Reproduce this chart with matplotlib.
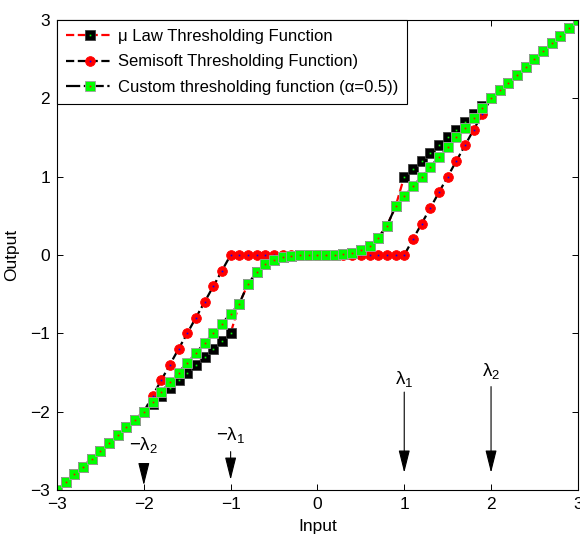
import matplotlib
matplotlib.use('Agg')
import matplotlib.pyplot as plt

plt.rcParams['font.family'] = ['Liberation Sans', 'DejaVu Sans']
plt.rcParams['mathtext.fontset'] = 'custom'
plt.rcParams['mathtext.rm'] = 'Liberation Sans'
plt.rcParams['mathtext.it'] = 'Liberation Sans'

# Input values (step 0.1)
x = [-3.0, -2.9, -2.8, -2.7, -2.6, -2.5, -2.4, -2.3, -2.2, -2.1,
     -2.0, -1.9, -1.8, -1.7, -1.6, -1.5, -1.4, -1.3, -1.2, -1.1,
     -1.0, -0.9, -0.8, -0.7, -0.6, -0.5, -0.4, -0.3, -0.2, -0.1,
     0.0, 0.1, 0.2, 0.3, 0.4, 0.5, 0.6, 0.7, 0.8, 0.9,
     1.0, 1.1, 1.2, 1.3, 1.4, 1.5, 1.6, 1.7, 1.8, 1.9,
     2.0, 2.1, 2.2, 2.3, 2.4, 2.5, 2.6, 2.7, 2.8, 2.9, 3.0]

# mu law thresholding
mu_law = [-3.0, -2.9, -2.8, -2.7, -2.6, -2.5, -2.4, -2.3, -2.2, -2.1,
          -2.0, -1.9, -1.8, -1.7, -1.6, -1.5, -1.4, -1.3, -1.2, -1.1,
          -1.0, -0.62, -0.37, -0.22, -0.12, -0.07, -0.03, -0.01, 0.0, 0.0,
          0.0, 0.0, 0.0, 0.01, 0.03, 0.07, 0.12, 0.22, 0.37, 0.62,
          1.0, 1.1, 1.2, 1.3, 1.4, 1.5, 1.6, 1.7, 1.8, 1.9,
          2.0, 2.1, 2.2, 2.3, 2.4, 2.5, 2.6, 2.7, 2.8, 2.9, 3.0]

# semisoft thresholding
semisoft = [-3.0, -2.9, -2.8, -2.7, -2.6, -2.5, -2.4, -2.3, -2.2, -2.1,
            -2.0, -1.8, -1.6, -1.4, -1.2, -1.0, -0.8, -0.6, -0.4, -0.2,
            0.0, 0.0, 0.0, 0.0, 0.0, 0.0, 0.0, 0.0, 0.0, 0.0,
            0.0, 0.0, 0.0, 0.0, 0.0, 0.0, 0.0, 0.0, 0.0, 0.0,
            0.0, 0.2, 0.4, 0.6, 0.8, 1.0, 1.2, 1.4, 1.6, 1.8,
            2.0, 2.1, 2.2, 2.3, 2.4, 2.5, 2.6, 2.7, 2.8, 2.9, 3.0]

# custom thresholding (alpha = 0.5)
custom = [-3.0, -2.9, -2.8, -2.7, -2.6, -2.5, -2.4, -2.3, -2.2, -2.1,
          -2.0, -1.875, -1.75, -1.625, -1.5, -1.375, -1.25, -1.125, -1.0, -0.875,
          -0.75, -0.62, -0.37, -0.22, -0.12, -0.07, -0.03, -0.01, 0.0, 0.0,
          0.0, 0.0, 0.0, 0.01, 0.03, 0.07, 0.12, 0.22, 0.37, 0.62,
          0.75, 0.875, 1.0, 1.125, 1.25, 1.375, 1.5, 1.625, 1.75, 1.875,
          2.0, 2.1, 2.2, 2.3, 2.4, 2.5, 2.6, 2.7, 2.8, 2.9, 3.0]

labels = ['\u03bc Law Thresholding Function',
          'Semisoft Thresholding Function)',
          'Custom thresholding function (\u03b1=0.5))']
ticks = [-3, -2, -1, 0, 1, 2, 3]

fig = plt.figure(figsize=(5.8, 5.37), dpi=100)
ax = fig.add_axes([0.0983, 0.0875, 0.898, 0.8753])

l1, = ax.plot(x, mu_law, '--', color='#ff0000', lw=1.6, marker='s', ms=6.5,
              mfc='k', mec='#404040', mew=0.6)
d1, = ax.plot(x, mu_law, ls='none', marker='s', ms=1.2, mfc='#00ff00', mec='none')
l2, = ax.plot(x, semisoft, '--', color='k', lw=1.6, marker='o', ms=7,
              mfc='#ff0000', mec='#ff0000', mew=0.6)
d2, = ax.plot(x, semisoft, ls='none', marker='s', ms=1.2, mfc='#0000ff', mec='none')
l3, = ax.plot(x, custom, '-.', color='k', lw=1.6, marker='s', ms=6.5,
              mfc='#00ff00', mec='#a0a0a0', mew=0.6)
d3, = ax.plot(x, custom, ls='none', marker='s', ms=1.2, mfc='#ff0000', mec='none')

ax.set_xlim(-3, 3)
ax.set_ylim(-3, 3)
ax.set_xticks(ticks)
ax.set_yticks(ticks)
ax.tick_params(direction='in', length=4, width=0.7, top=True, right=True,
               labelsize=12.5, pad=5)
for s in ax.spines.values():
    s.set_linewidth(0.8)

ax.set_xlabel('Input', fontsize=12.5, labelpad=5)
ax.set_ylabel('Output', fontsize=12.5, labelpad=8)

# threshold markers
arrows = [(1.0, -1.75, -2.78, r'$\lambda_1$', -1.58),
          (2.0, -1.68, -2.78, r'$\lambda_2$', -1.48),
          (-1.0, -2.51, -2.87, r'$-\lambda_1$', -2.30),
          (-2.0, -2.68, -2.94, r'$-\lambda_2$', -2.43)]
for xa, ytop, ytip, txt, ytxt in arrows:
    ax.annotate('', xy=(xa, ytip), xytext=(xa, ytop),
                arrowprops=dict(arrowstyle='-|>,head_length=1.4,head_width=0.35',
                                color='k', lw=0.8, shrinkA=0, shrinkB=0))
    ax.text(xa, ytxt, txt, ha='center', va='center', fontsize=13.5)

leg = ax.legend([(l1, d1), (l2, d2), (l3, d3)], labels, loc='upper left',
                borderaxespad=0, fancybox=False, framealpha=1, edgecolor='k',
                fontsize=12, handlelength=2.8, handletextpad=0.3,
                labelspacing=0.62, borderpad=0.55)
leg.get_frame().set_linewidth(0.8)

plt.savefig('out.png', dpi=100)
